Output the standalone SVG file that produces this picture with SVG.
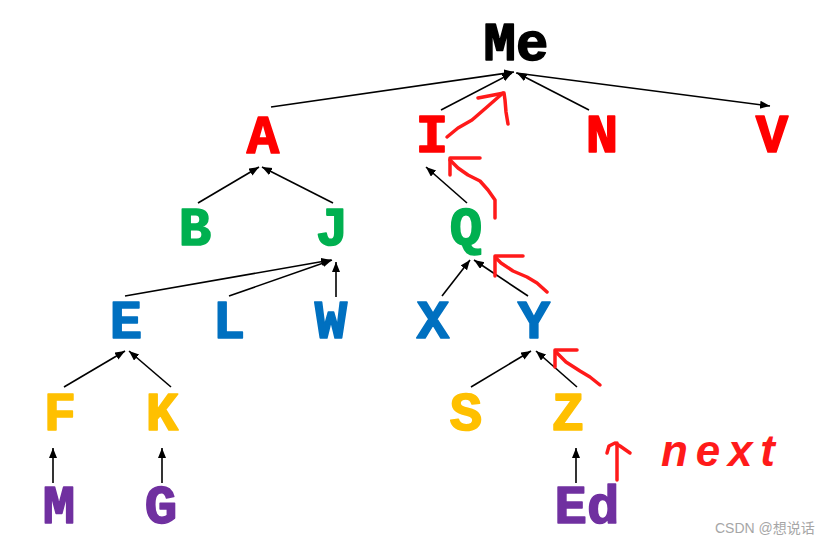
<svg xmlns="http://www.w3.org/2000/svg" width="829" height="546" viewBox="0 0 829 546">
<style>
.n{font-family:"Liberation Mono","DejaVu Sans Mono",monospace;font-weight:bold;font-size:54px;text-anchor:middle;stroke-width:1.6;stroke-linejoin:round}
.red{fill:#FF0000;stroke:#FF0000}.grn{fill:#00B050;stroke:#00B050}.blu{fill:#0070C0;stroke:#0070C0}.yel{fill:#FFC000;stroke:#FFC000}.pur{fill:#7030A0;stroke:#7030A0}.blk{fill:#000;stroke:#000}
.e{stroke:#000;stroke-width:1.6;fill:none;marker-end:url(#ah)}
.h{stroke:#FF1A1A;stroke-width:3.5;fill:none;stroke-linecap:round;stroke-linejoin:round}
</style>
<defs>
<marker id="ah" markerUnits="userSpaceOnUse" markerWidth="12" markerHeight="10" refX="10" refY="4" orient="auto">
<path d="M0,0 L10,4 L0,8 Z" fill="#000"/>
</marker>
</defs>
<rect width="829" height="546" fill="#fff"/>
<g id="connectors">
<line class="e" x1="271" y1="107" x2="514" y2="72"/>
<line class="e" x1="441" y1="110" x2="512" y2="73"/>
<line class="e" x1="589" y1="110" x2="517" y2="73"/>
<line class="e" x1="516" y1="73" x2="770" y2="106"/>
<line class="e" x1="198" y1="203" x2="259" y2="167"/>
<line class="e" x1="333" y1="203" x2="262" y2="167"/>
<line class="e" x1="125" y1="296" x2="331" y2="260"/>
<line class="e" x1="229" y1="296" x2="332" y2="260"/>
<line class="e" x1="336" y1="297" x2="336" y2="262"/>
<line class="e" x1="467" y1="203" x2="426" y2="167"/>
<line class="e" x1="442" y1="296" x2="470" y2="260"/>
<line class="e" x1="528" y1="296" x2="474" y2="260"/>
<line class="e" x1="471" y1="387" x2="531" y2="351"/>
<line class="e" x1="577" y1="387" x2="536" y2="351"/>
<line class="e" x1="64" y1="387" x2="125" y2="351"/>
<line class="e" x1="171" y1="387" x2="129" y2="351"/>
<line class="e" x1="53" y1="483" x2="53" y2="448"/>
<line class="e" x1="162" y1="483" x2="162" y2="448"/>
<line class="e" x1="576" y1="483" x2="576" y2="448"/>
</g>
<g id="node-Me"><text class="n blk" x="516" y="60">Me</text></g>
<g id="node-A"><text class="n red" x="263" y="153">A</text></g>
<g id="node-I"><text class="n red" x="432" y="152">I</text></g>
<g id="node-N"><text class="n red" x="602" y="152">N</text></g>
<g id="node-V"><text class="n red" x="772" y="152">V</text></g>
<g id="node-B"><text class="n grn" x="195" y="245">B</text></g>
<g id="node-J"><text class="n grn" x="332" y="245">J</text></g>
<g id="node-Q"><text class="n grn" x="466" y="245">Q</text></g>
<g id="node-E"><text class="n blu" x="126" y="338">E</text></g>
<g id="node-L"><text class="n blu" x="229" y="338">L</text></g>
<g id="node-W"><text class="n blu" x="331" y="338">W</text></g>
<g id="node-X"><text class="n blu" x="433" y="338">X</text></g>
<g id="node-Y"><text class="n blu" x="534" y="338">Y</text></g>
<g id="node-F"><text class="n yel" x="60" y="430">F</text></g>
<g id="node-K"><text class="n yel" x="162" y="430">K</text></g>
<g id="node-S"><text class="n yel" x="466" y="430">S</text></g>
<g id="node-Z"><text class="n yel" x="568" y="430">Z</text></g>
<g id="node-M"><text class="n pur" x="59" y="523">M</text></g>
<g id="node-G"><text class="n pur" x="161" y="523">G</text></g>
<g id="node-Ed"><text class="n pur" x="587" y="523">Ed</text></g>
<g id="annotations">
<path class="h" d="M447,137 L458,128 L472,120 L487,107 L503,93"/>
<path class="h" d="M478,98 L504,93 L505,100 L506,112 L508,124"/>
<path class="h" d="M450,175 L450,158 L480,158"/>
<path class="h" d="M495,218 L495,200 L488,190 L480,181 L468,175 L458,168 L450,160"/>
<path class="h" d="M495,276 L495,256 L523,256"/>
<path class="h" d="M496,258 L501,263 L513,271 L527,277 L537,283 L547,292"/>
<path class="h" d="M555,367 L555,350 L577,350"/>
<path class="h" d="M556,352 L566,362 L580,371 L590,377 L600,385"/>
<path class="h" d="M617,480 L617,443"/>
<path class="h" d="M607,453 L609,446 L615,443 L620,446 L630,453"/>
<text x="661" y="466" fill="#FF1A1A" font-family="Liberation Sans, sans-serif" font-style="italic" font-weight="bold" font-size="44" textLength="114" lengthAdjust="spacing">next</text>
<text x="715" y="533" fill="#A6A6A6" font-family="Liberation Sans, 'Noto Sans CJK SC', sans-serif" font-size="14">CSDN @想说话</text>
</g>
</svg>
